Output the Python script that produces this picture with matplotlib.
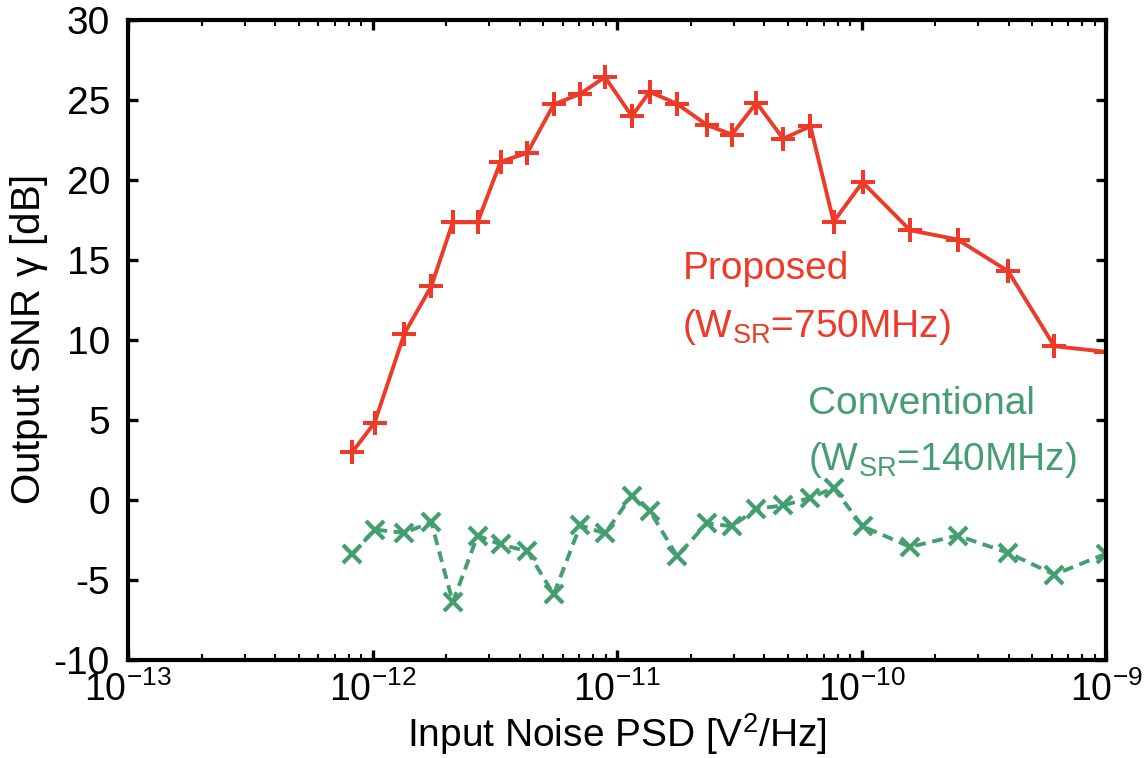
import matplotlib
matplotlib.use("Agg")
import matplotlib.pyplot as plt

plt.rcParams['font.family'] = ['Liberation Sans', 'DejaVu Sans']
plt.rcParams['mathtext.fontset'] = 'custom'
plt.rcParams['mathtext.rm'] = 'Liberation Sans'
plt.rcParams['mathtext.it'] = 'Liberation Sans'
plt.rcParams['axes.unicode_minus'] = False

# Input noise PSD [V^2/Hz]
noise_psd = [8.26e-13, 1.02e-12, 1.35e-12, 1.74e-12, 2.13e-12, 2.69e-12, 3.34e-12,
             4.30e-12, 5.51e-12, 7.08e-12, 8.93e-12, 1.15e-11, 1.36e-11, 1.76e-11,
             2.33e-11, 2.95e-11, 3.72e-11, 4.78e-11, 6.18e-11, 7.69e-11, 1.01e-10,
             1.58e-10, 2.47e-10, 3.98e-10, 6.15e-10, 1.0e-9]
# Output SNR [dB]
snr_proposed = [2.99, 4.83, 10.4, 13.36, 17.36, 17.36, 21.14, 21.7, 24.72, 25.39,
                26.43, 23.99, 25.51, 24.76, 23.44, 22.84, 24.83, 22.58, 23.36, 17.39,
                19.86, 16.86, 16.28, 14.3, 9.61, 9.26]
snr_conventional = [-3.4, -1.85, -2.05, -1.39, -6.39, -2.22, -2.78, -3.2, -5.9, -1.58,
                    -2.09, 0.28, -0.66, -3.51, -1.46, -1.64, -0.55, -0.34, 0.14, 0.76,
                    -1.64, -2.93, -2.22, -3.3, -4.66, -3.36]
x_ticks = [1e-13, 1e-12, 1e-11, 1e-10, 1e-9]
x_ticklabels = [r'$10^{-13}$', r'$10^{-12}$', r'$10^{-11}$', r'$10^{-10}$', r'$10^{-9}$']
y_ticks = [-10, -5, 0, 5, 10, 15, 20, 25, 30]

red = '#EE3A28'
green = '#449F70'

fig = plt.figure(figsize=(11.45, 7.58), dpi=100)
ax = fig.add_axes([128/1145, 98/758, (1106-128)/1145, (660-20)/758])

ax.plot(noise_psd, snr_proposed, '-', color=red, lw=2.8, marker='+', ms=17, mew=2.9)
ax.plot(noise_psd, snr_conventional, '--', color=green, lw=2.8, marker='x', ms=13, mew=3.0,
        dashes=(2.8, 1.7))

ax.set_xscale('log')
ax.set_xlim(1e-13, 1e-9)
ax.set_ylim(-10, 30)
ax.set_yticks(y_ticks)
ax.set_xticks(x_ticks)
ax.set_xticklabels(x_ticklabels)

for s in ax.spines.values():
    s.set_linewidth(3.0)
ax.tick_params(which='major', direction='in', length=7, width=2.4, labelsize=28,
               top=True, right=True)
ax.tick_params(axis='y', pad=13)
ax.tick_params(axis='x', pad=8, labelsize=27)
ax.tick_params(which='minor', direction='in', length=4, width=1.5, top=True, right=True)

ax.set_xlabel(r'Input Noise PSD [V$^2$/Hz]', fontsize=28, labelpad=2)
ax.set_ylabel(r'Output SNR $\gamma$ [dB]', fontsize=29, labelpad=3)

ax.text(1.85e-11, 13.8, 'Proposed', color=red, fontsize=28, ha='left', va='baseline')
ax.text(1.85e-11, 10.2, r'(W$_{\mathregular{SR}}$=750MHz)', color=red, fontsize=28,
        ha='left', va='baseline')
ax.text(6.04e-11, 5.35, 'Conventional', color=green, fontsize=28, ha='left', va='baseline')
ax.text(6.04e-11, 1.9, r'(W$_{\mathregular{SR}}$=140MHz)', color=green, fontsize=28,
        ha='left', va='baseline')

fig.savefig('out.png', dpi=100)
